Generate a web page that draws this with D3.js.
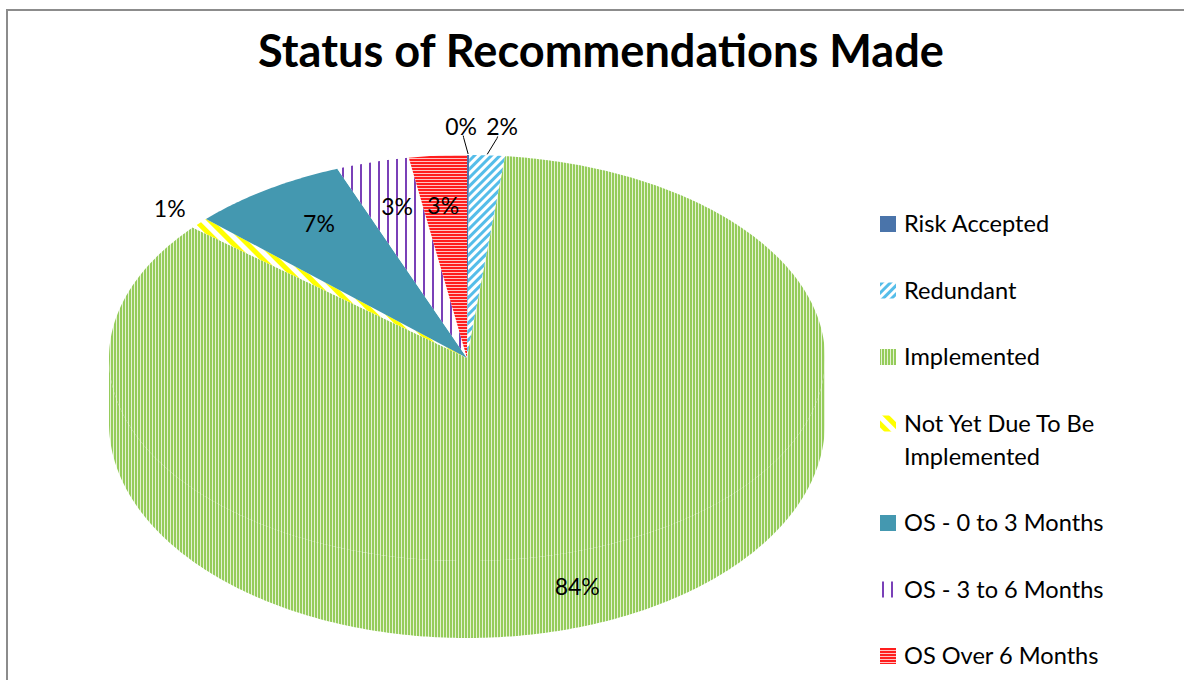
<!DOCTYPE html>
<html>
<head>
<meta charset="utf-8">
<script src="https://cdn.jsdelivr.net/npm/d3@7"></script>
<style>
  html, body { margin: 0; padding: 0; background: #fff; }
  svg { display: block; }
  text { font-family: Lato, "Open Sans", "DejaVu Sans", sans-serif; fill: #000; }
</style>
</head>
<body>
<svg id="chart" width="1184" height="680"></svg>
<script>
// ---- data ----
const title = "Status of Recommendations Made";
const categories = ["Risk Accepted", "Redundant", "Implemented", "Not Yet Due To Be Implemented",
                    "OS - 0 to 3 Months", "OS - 3 to 6 Months", "OS Over 6 Months"];
const legendLines = [["Risk Accepted"], ["Redundant"], ["Implemented"], ["Not Yet Due To Be", "Implemented"],
                     ["OS - 0 to 3 Months"], ["OS - 3 to 6 Months"], ["OS Over 6 Months"]];
const values = [0.1, 1.6, 84.4, 0.9, 7.1, 3.3, 2.6];

// ---- styling / layout ----
const fills = ["#4A74AA", "url(#pRed)", "url(#pImp)", "url(#pNyd)", "#4498B0", "url(#pOs36)", "url(#pOs6)"];
const labelRadius = [1.14, 1.14, 1.17, 1.11, 0.78, 0.77, 0.75];
const labelNudgeDeg = [-1.0, 1.7, 6.7, 0, 2, 0.6, -0.4];
const leader = [true, true, false, false, false, false, false];

const svg = d3.select("#chart");
const defs = svg.append("defs");

function stripes(id, size, band, color, bg, angle) {
  const p = defs.append("pattern").attr("id", id).attr("patternUnits", "userSpaceOnUse")
    .attr("width", size).attr("height", size);
  if (angle) p.attr("patternTransform", `rotate(${angle})`);
  p.append("rect").attr("width", size).attr("height", size).attr("fill", bg);
  p.append("rect").attr("width", band).attr("height", size).attr("fill", color);
  return p;
}
stripes("pRed", 6, 3, "#55BDE9", "#fff", 45);
stripes("pImp", 3, 2, "#95CC5B", "#E4F2D4", 0);
stripes("pNyd", 10, 5, "#FFFF00", "#fff", -45);
stripes("pOs36", 9, 2, "#7A40B8", "#fff", 0);
(function () {
  const p = defs.append("pattern").attr("id", "pOs6").attr("patternUnits", "userSpaceOnUse")
    .attr("width", 3).attr("height", 3);
  p.append("rect").attr("width", 3).attr("height", 3).attr("fill", "#FFC4C4");
  p.append("rect").attr("width", 3).attr("height", 2).attr("fill", "#FF1E1E");
})();

// border
svg.append("rect").attr("x", 7).attr("y", 10).attr("width", 1190).attr("height", 700)
  .attr("fill", "none").attr("stroke", "#8C8C8C").attr("stroke-width", 2);

// title (fit to width)
const t = svg.append("text").attr("x", 601).attr("y", 67).attr("text-anchor", "middle")
  .attr("font-weight", "bold").attr("font-size", 40).text(title);
const tl = t.node().getComputedTextLength();
t.attr("font-size", 40 * 686 / tl);

// ---- 3-D pie projection (tilted disc with thickness) ----
const cx = 467, cy = 358, rx = 358, ry = 203, depth = 65, ryBottom = 215;
function project(theta, r, bottom) {
  const yr = bottom ? ryBottom : ry;
  return [cx + rx * r * Math.sin(theta), cy + (bottom ? depth : 0) - yr * r * Math.cos(theta)];
}

const total = d3.sum(values);
const arcs = d3.pie().sort(null).value(d => d)(values);
const line = d3.line();
const step = Math.PI / 360;
function samples(a0, a1) {
  const n = Math.max(2, Math.ceil(Math.abs(a1 - a0) / step));
  return d3.range(n + 1).map(k => a0 + (a1 - a0) * k / n);
}

const g = svg.append("g");
// side walls (front half only: PI/2 .. 3PI/2)
arcs.forEach((a, i) => {
  const a0 = Math.max(a.startAngle, Math.PI / 2), a1 = Math.min(a.endAngle, 3 * Math.PI / 2);
  if (a1 <= a0) return;
  const top = samples(a0, a1).map(th => project(th, 1, false));
  const bot = samples(a1, a0).map(th => project(th, 1, true));
  g.append("path").attr("d", line(top.concat(bot)) + "Z").attr("fill", fills[i]);
});
// top faces
arcs.forEach((a, i) => {
  const pts = [[cx, cy]].concat(samples(a.startAngle, a.endAngle).map(th => project(th, 1, false)));
  g.append("path").attr("d", line(pts) + "Z").attr("fill", fills[i]);
});

// labels
arcs.forEach((a, i) => {
  const mid = (a.startAngle + a.endAngle) / 2;
  const la = mid + labelNudgeDeg[i] * Math.PI / 180;
  const [lx, ly] = project(la, labelRadius[i], false);
  if (leader[i]) {
    const [px, py] = project(mid, 1, false);
    g.append("path")
      .attr("d", line([[px, py - 1], [lx + (px - lx) * 0.35, ly + 11], [lx + (px - lx) * 0.3, ly + 9]]))
      .attr("fill", "none").attr("stroke", "#000").attr("stroke-width", 1);
  }
  g.append("text").attr("x", lx).attr("y", ly).attr("dy", "0.35em").attr("text-anchor", "middle")
    .attr("font-size", 23).text(Math.round(values[i] / total * 100) + "%");
});

// legend
const lg = svg.append("g");
let ly = 224;
categories.forEach((c, i) => {
  lg.append("rect").attr("x", 880).attr("y", ly - 8).attr("width", 16).attr("height", 16).attr("fill", fills[i]);
  legendLines[i].forEach((ln, j) => {
    lg.append("text").attr("x", 904).attr("y", ly + 8 + j * 33).attr("font-size", 23.6).text(ln);
  });
  ly += 66.5 + (legendLines[i].length - 1) * 33;
});
</script>
</body>
</html>
